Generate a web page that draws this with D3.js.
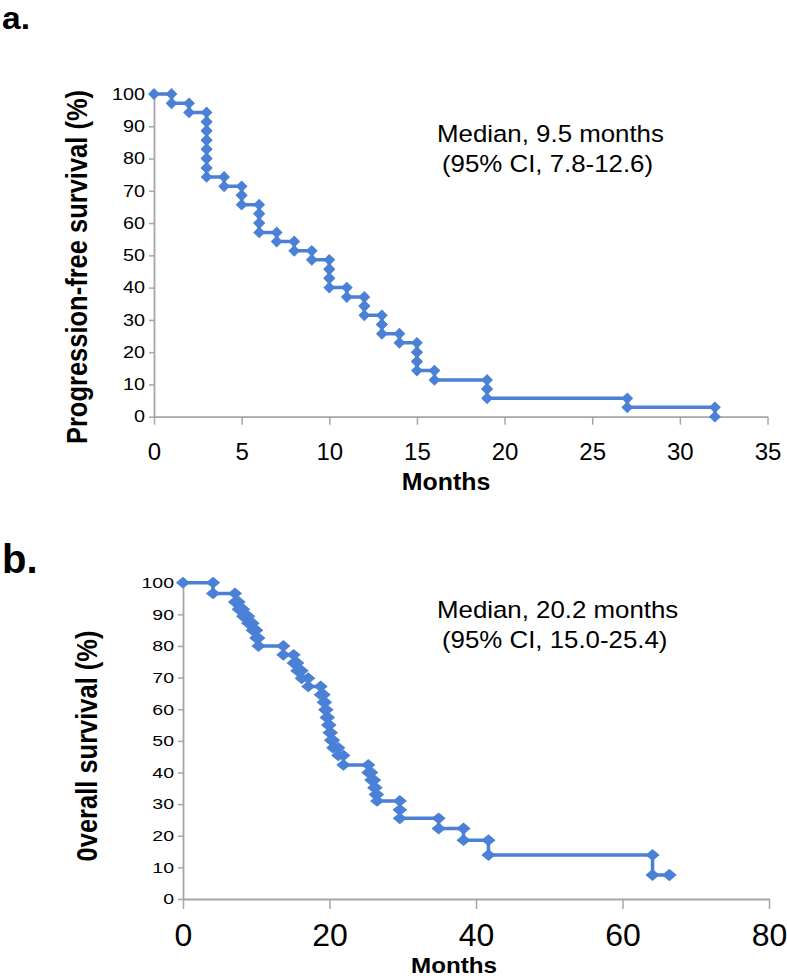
<!DOCTYPE html>
<html lang="en">
<head>
<meta charset="UTF-8">
<title>Survival curves</title>
<style>
    body, html { margin: 0; padding: 0; background: #fff; }
    svg { display: block; font-family: "Liberation Sans", Arial, sans-serif; }
</style>
</head>
<body>
<svg id="svg" width="787" height="978"></svg>
<script src="https://d3js.org/d3.v7.min.js"></script>
<script>
// a. progression-free survival, one row per event (month, % after event)
const pfsMonths = [0, 1, 2, 3, 3, 3, 3, 3, 3, 3, 4, 5, 5, 6, 6, 6, 7, 8, 9, 10, 10, 10,
    11, 12, 12, 13, 13, 14, 15, 15, 15, 16, 19, 19, 27, 32];
const pfsSurvival = [100, 97.1, 94.3, 91.4, 88.6, 85.7, 82.9, 80, 77.1, 74.3, 71.4, 68.6, 65.7,
    62.9, 60, 57.1, 54.3, 51.4, 48.6, 45.7, 42.9, 40, 37.1, 34.3, 31.4, 28.6, 25.7, 22.9,
    20, 17.1, 14.3, 11.4, 8.6, 5.7, 2.9, 0];
const pfsXTicks = [0, 5, 10, 15, 20, 25, 30, 35];

// b. overall survival
const osMonths = [0, 4.1, 7.1, 7.6, 8.2, 8.9, 9.5, 10.0, 10.3, 13.7, 15.1, 15.6, 16.2, 17.1,
    18.8, 19.2, 19.4, 19.6, 19.8, 20.0, 20.2, 20.5, 21.2, 21.9, 25.3, 25.7, 26.1, 26.3, 26.5,
    29.6, 29.6, 34.9, 38.3, 41.7, 64.1, 66.4];
const osSurvival = [100, 96.6, 93.9, 91.6, 89.4, 87.2, 85, 82.5, 80, 77.2, 74.6, 72.2, 69.8, 67.2,
    64.6, 62.2, 59.8, 57.4, 55, 52.6, 50.2, 47.8, 45.4, 42.4, 40, 37.6, 35.2, 33, 31,
    28.2, 25.5, 22.3, 18.6, 13.9, 7.6, 7.6];
const osXTicks = [0, 20, 40, 60, 80];

const yTicks = [0, 10, 20, 30, 40, 50, 60, 70, 80, 90, 100];

const blue = '#4a80d5';
const axisGrey = '#a6a6a6';

const svg = d3.select('#svg');

// turn event rows into the vertices of a step line
function steps(months, surv) {
    const pts = [{ t: months[0], s: surv[0] }];
    for (let i = 1; i < months.length; i++) {
        pts.push({ t: months[i], s: surv[i - 1] });
        pts.push({ t: months[i], s: surv[i] });
    }
    return pts;
}

function label(x, y, str, size, weight, sx, rot) {
    return svg.append('text')
        .attr('transform', `translate(${x},${y}) scale(${sx},1)` + (rot ? ` rotate(${rot})` : ''))
        .style('font-size', size + 'px')
        .style('font-weight', weight)
        .attr('fill', '#000')
        .text(str);
}

function drawPanel(p) {
    const x = d3.scaleLinear().domain([0, p.xMax]).range([p.left, p.right]);
    const y = d3.scaleLinear().domain([0, 100]).range([p.bottom, p.top]);

    const yAxis = svg.append('g')
        .attr('transform', `translate(${p.left},0)`)
        .call(d3.axisLeft(y).tickValues(yTicks).tickSize(p.yTick).tickSizeOuter(0));
    yAxis.selectAll('text')
        .attr('x', -(p.yTick + 4) / p.yScaleX)
        .attr('transform', `scale(${p.yScaleX},1)`)
        .style('font-size', p.yFont + 'px')
        .attr('fill', '#000');

    const xAxis = svg.append('g')
        .attr('transform', `translate(0,${p.bottom})`)
        .call(d3.axisBottom(x).tickValues(p.xTicks).tickSize(p.xTick).tickSizeOuter(0));
    xAxis.selectAll('text')
        .attr('y', p.xLabelY)
        .attr('dy', 0)
        .style('font-size', p.xFont + 'px')
        .attr('fill', '#000');

    [yAxis, xAxis].forEach(g => {
        g.select('.domain').attr('stroke', axisGrey).attr('stroke-width', 1.8);
        g.selectAll('.tick line').attr('stroke', axisGrey).attr('stroke-width', 1.5);
        g.attr('font-family', null);
    });

    const pts = steps(p.months, p.surv);

    svg.append('path')
        .datum(pts)
        .attr('fill', 'none')
        .attr('stroke', blue)
        .attr('stroke-width', 3.5)
        .attr('d', d3.line().x(d => x(d.t)).y(d => y(d.s)));

    svg.append('g')
        .selectAll('path')
        .data(pts)
        .join('path')
        .attr('d', d3.symbol(d3.symbolSquare, p.marker))
        .attr('transform', d => `translate(${x(d.t)},${y(d.s)}) scale(${p.markerSX},1) rotate(45)`)
        .attr('fill', blue);
}

drawPanel({
    months: pfsMonths, surv: pfsSurvival, xTicks: pfsXTicks, xMax: 35,
    left: 154, right: 767.5, top: 94, bottom: 416.7,
    yTick: 5, xTick: 8, yFont: 16.5, yScaleX: 1.2, xFont: 24, xLabelY: 43,
    marker: 70, markerSX: 1
});

drawPanel({
    months: osMonths, surv: osSurvival, xTicks: osXTicks, xMax: 80,
    left: 183, right: 769, top: 582.7, bottom: 899,
    yTick: 5, xTick: 10, yFont: 15, yScaleX: 1.3, xFont: 32, xLabelY: 47,
    marker: 70, markerSX: 1.2
});

// panel letters
label(2, 29, 'a.', 32, 'bold', 1.05);
label(2, 573, 'b.', 40, 'bold', 1);

// medians
label(437, 142, 'Median, 9.5 months', 23.5, 'normal', 1.1);
label(442, 172, '(95% CI, 7.8-12.6)', 23.5, 'normal', 1.1);
label(437, 618, 'Median, 20.2 months', 23.5, 'normal', 1.1);
label(442, 648, '(95% CI, 15.0-25.4)', 23.5, 'normal', 1.1);

// axis titles
label(446, 490, 'Months', 23.5, 'bold', 1.06).attr('text-anchor', 'middle');
label(454, 973, 'Months', 22, 'bold', 1.1).attr('text-anchor', 'middle');
label(87, 267, 'Progression-free survival (%)', 25.5, 'bold', 1.15, -90).attr('text-anchor', 'middle');
label(96.5, 746, '0verall survival (%)', 25.5, 'bold', 1.15, -90).attr('text-anchor', 'middle');
</script>
</body>
</html>
